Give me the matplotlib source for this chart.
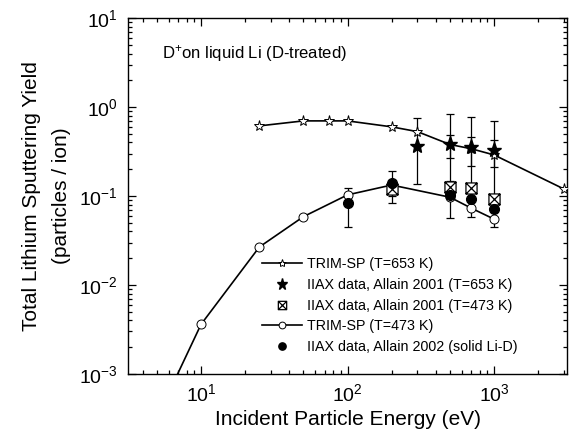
import matplotlib
matplotlib.use("Agg")
import matplotlib.pyplot as plt
from matplotlib.path import Path
from matplotlib.ticker import LogLocator, NullFormatter

plt.rcParams['font.family'] = ['Liberation Sans', 'DejaVu Sans']
plt.rcParams['mathtext.fontset'] = 'custom'
plt.rcParams['mathtext.rm'] = 'Liberation Sans'
plt.rcParams['mathtext.it'] = 'Liberation Sans'

# TRIM-SP, T=653 K
trim653_E = [25, 50, 75, 100, 200, 300, 500, 700, 1000, 3000]
trim653_Y = [0.615, 0.70, 0.70, 0.70, 0.60, 0.53, 0.38, 0.34, 0.29, 0.12]

# TRIM-SP, T=473 K
trim473_E = [5, 10, 25, 50, 100, 200, 500, 700, 1000]
trim473_Y = [3.2e-4, 0.0036, 0.0267, 0.0586, 0.103, 0.133, 0.097, 0.073, 0.055]

# IIAX data, Allain 2001 (T=653 K)
iiax653_E = [300, 500, 700, 1000]
iiax653_Y = [0.37, 0.38, 0.355, 0.33]
iiax653_lo = [0.136, 0.265, 0.22, 0.21]
iiax653_hi = [0.76, 0.83, 0.77, 0.70]

# IIAX data, Allain 2001 (T=473 K)
iiax473_E = [200, 500, 700, 1000]
iiax473_Y = [0.119, 0.127, 0.122, 0.092]
iiax473_lo = [0.10, 0.11, 0.058, 0.045]
iiax473_hi = [0.15, 0.485, 0.46, 0.43]

# IIAX data, Allain 2002 (solid Li-D)
iiax02_E = [100, 200, 500, 700, 1000]
iiax02_Y = [0.083, 0.14, 0.103, 0.092, 0.071]
iiax02_lo = [0.045, 0.083, 0.057, 0.092, 0.071]
iiax02_hi = [0.122, 0.19, 0.147, 0.092, 0.071]


def err(y, lo, hi):
    return [[v - l for v, l in zip(y, lo)], [h - v for v, h in zip(y, hi)]]


# boxed-X marker
boxx = Path([(-1, -1), (1, -1), (1, 1), (-1, 1), (-1, -1), (-1, -1), (1, 1), (-1, 1), (1, -1)],
            [Path.MOVETO, Path.LINETO, Path.LINETO, Path.LINETO, Path.CLOSEPOLY,
             Path.MOVETO, Path.LINETO, Path.MOVETO, Path.LINETO])

fig = plt.figure(figsize=(5.73, 4.44), dpi=100)
ax = fig.add_axes([0.223, 0.158, 0.767, 0.801])

ebkw = dict(fmt='none', ecolor='black', elinewidth=0.9, capsize=3, capthick=0.9)
ax.errorbar(iiax653_E, iiax653_Y, yerr=err(iiax653_Y, iiax653_lo, iiax653_hi), **ebkw)
ax.errorbar(iiax473_E, iiax473_Y, yerr=err(iiax473_Y, iiax473_lo, iiax473_hi), **ebkw)
ax.errorbar(iiax02_E, iiax02_Y, yerr=err(iiax02_Y, iiax02_lo, iiax02_hi), **ebkw)

ax.plot(trim653_E, trim653_Y, 'k-', lw=1.2, marker='*', ms=8, mfc='white', mec='black',
        mew=0.7, label='TRIM-SP (T=653 K)', zorder=3)
ax.plot(iiax653_E, iiax653_Y, 'k*', ms=11, label='IIAX data, Allain 2001 (T=653 K)', zorder=4)
ax.plot(iiax473_E, iiax473_Y, ls='none', marker=boxx, ms=8, mfc='white', mec='black',
        mew=0.9, label='IIAX data, Allain 2001 (T=473 K)', zorder=4)
ax.plot(trim473_E, trim473_Y, 'k-', lw=1.2, marker='o', ms=6.5, mfc='white', mec='black',
        mew=0.7, label='TRIM-SP (T=473 K)', zorder=3)
ax.plot(iiax02_E, iiax02_Y, 'ko', ms=7, label='IIAX data, Allain 2002 (solid Li-D)', zorder=4)

ax.set_xscale('log')
ax.set_yscale('log')
ax.set_xlim(10 ** 0.5, 10 ** 3.5)
ax.set_ylim(1e-3, 10)
ax.set_xticks([10, 100, 1000])
ax.set_yticks([1e-3, 1e-2, 1e-1, 1, 10])
ax.xaxis.set_minor_locator(LogLocator(base=10, subs=range(2, 10), numticks=20))
ax.yaxis.set_minor_locator(LogLocator(base=10, subs=range(2, 10), numticks=20))
ax.xaxis.set_minor_formatter(NullFormatter())
ax.yaxis.set_minor_formatter(NullFormatter())
ax.tick_params(which='both', direction='in', top=True, right=True, labelsize=14, width=0.9)
ax.tick_params(which='major', length=6, pad=7)
ax.tick_params(which='minor', length=3)
for s in ax.spines.values():
    s.set_linewidth(1.0)

ax.set_xlabel('Incident Particle Energy (eV)', fontsize=15, labelpad=3)
ax.set_ylabel('Total Lithium Sputtering Yield\n(particles / ion)', fontsize=15, labelpad=6,
              linespacing=1.7)
ax.text(0.078, 0.9, r'D$^{+}$on liquid Li (D-treated)', transform=ax.transAxes,
        fontsize=12, va='center')

ax.legend(loc='lower left', bbox_to_anchor=(0.306, 0.055), frameon=False, fontsize=10.3,
          markerscale=0.75, handlelength=2.8, handletextpad=0.3, labelspacing=0.48,
          borderpad=0, borderaxespad=0)

fig.savefig('out.png', dpi=100)
